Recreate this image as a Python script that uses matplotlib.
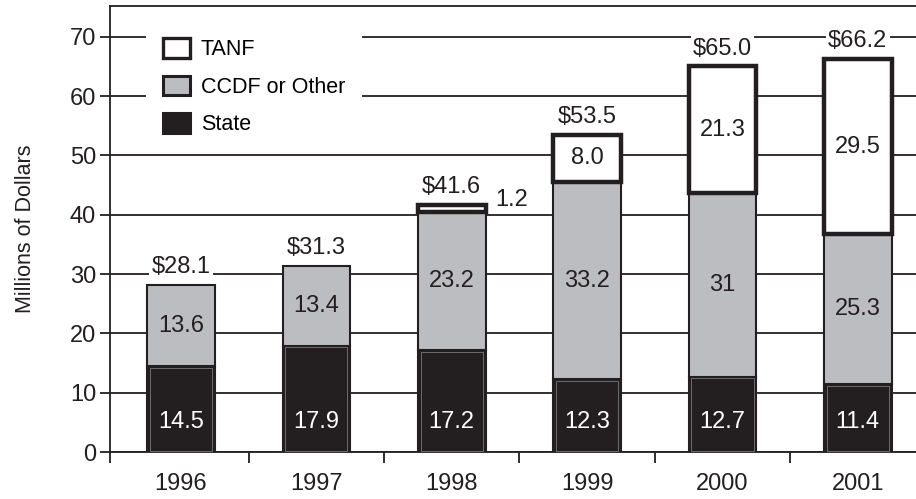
import matplotlib
matplotlib.use("Agg")
import matplotlib.pyplot as plt
from matplotlib.patches import Patch
import numpy as np

plt.rcParams['font.family'] = ['Liberation Sans', 'DejaVu Sans']
fs = 17
lfs = 15.5
yfs = 15.5

years = ["1996", "1997", "1998", "1999", "2000", "2001"]
state = [14.5, 17.9, 17.2, 12.3, 12.7, 11.4]
ccdf = [13.6, 13.4, 23.2, 33.2, 31.0, 25.3]
tanf = [0.0, 0.0, 1.2, 8.0, 21.3, 29.5]
totals = ["$28.1", "$31.3", "$41.6", "$53.5", "$65.0", "$66.2"]
state_labels = ["14.5", "17.9", "17.2", "12.3", "12.7", "11.4"]
ccdf_labels = ["13.6", "13.4", "23.2", "33.2", "31", "25.3"]
tanf_labels = ["", "", "1.2", "8.0", "21.3", "29.5"]

INK = '#231f20'
GRAY = '#bcbdc0'

fig = plt.figure(figsize=(9.16, 4.99), dpi=100)
ax = fig.add_axes([0.120, 0.094, 0.880, 0.894])

x = np.arange(len(years))
state_a = np.array(state)
ccdf_a = np.array(ccdf)
tanf_a = np.array(tanf)
w = 0.5

ax.bar(x, state_a, w, color=INK, edgecolor=INK, linewidth=1.5, zorder=3)
ax.bar(x, state_a - 0.5, w - 0.04, bottom=0.25, facecolor='none', edgecolor='#8a8a8c', linewidth=0.5, zorder=4)
ax.bar(x, ccdf_a, w, bottom=state_a, color=GRAY, edgecolor=INK, linewidth=1.5, zorder=3)
mask = tanf_a > 0
ax.bar(x[mask], tanf_a[mask], w, bottom=(state_a + ccdf_a)[mask], color='white',
       edgecolor=INK, linewidth=3.2, zorder=3)

for i in range(len(years)):
    ax.text(x[i], 5.0, state_labels[i], color='white', ha='center', va='center', fontsize=fs, zorder=6)
    ax.text(x[i], state_a[i] + ccdf_a[i] / 2, ccdf_labels[i], color=INK, ha='center', va='center', fontsize=fs, zorder=6)
    top = state_a[i] + ccdf_a[i] + tanf_a[i]
    if tanf_a[i] >= 5:
        ax.text(x[i], state_a[i] + ccdf_a[i] + tanf_a[i] / 2, tanf_labels[i], color=INK, ha='center', va='center', fontsize=fs, zorder=6)
    elif tanf_a[i] > 0:
        ax.text(x[i] + 0.44, top + 0.9, tanf_labels[i], color=INK, ha='center', va='center', fontsize=fs, zorder=6)
    ax.annotate(totals[i], (x[i], top), xytext=(0, 5), textcoords='offset points',
                ha='center', va='bottom', fontsize=fs, color=INK, zorder=6,
                bbox=dict(facecolor='white', edgecolor='none', pad=1.5))

ax.set_xlim(-0.525, 5.43)
ax.set_ylim(0, 75.2)
ax.set_yticks(range(0, 71, 10))
ax.tick_params(axis='y', direction='out', length=7, width=1.3, color=INK, labelsize=fs, labelcolor=INK, pad=3)
ax.set_xticks(x)
ax.set_xticklabels(years)
ax.tick_params(axis='x', length=0, labelsize=fs, labelcolor=INK, pad=15)
ax.set_xticks(list(np.arange(0.5, 5, 1.0)) + [-0.525], minor=True)
ax.tick_params(axis='x', which='minor', direction='out', length=8, width=1.3, color=INK)

ax.yaxis.grid(True, color=INK, linewidth=1.3)
ax.set_axisbelow(True)
for s in ['left', 'bottom', 'top']:
    ax.spines[s].set_color(INK)
    ax.spines[s].set_linewidth(1.3)
ax.spines['right'].set_visible(False)

ax.set_ylabel("Millions of Dollars", fontsize=yfs, color=INK, labelpad=24)

handles = [Patch(facecolor='white', edgecolor=INK, linewidth=2.4),
           Patch(facecolor=GRAY, edgecolor=INK, linewidth=2.2),
           Patch(facecolor=INK, edgecolor=INK, linewidth=2.2)]
leg = ax.legend(handles, ["TANF", "CCDF or Other", "State"], loc='upper left',
                bbox_to_anchor=(0.0447, 0.966), borderaxespad=0, frameon=True, fontsize=lfs,
                handlelength=1.25, handleheight=1.0, handletextpad=0.5, labelspacing=0.72,
                borderpad=0.8)
leg.get_frame().set_facecolor('white')
leg.get_frame().set_edgecolor('none')
leg.get_frame().set_alpha(1)
leg.set_zorder(7)

fig.savefig("out.png", dpi=100)
